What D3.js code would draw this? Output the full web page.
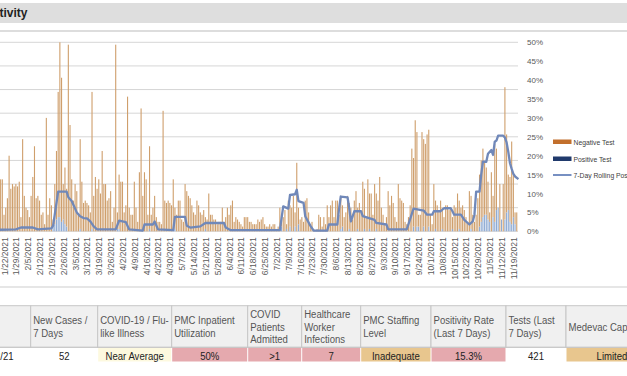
<!DOCTYPE html>
<html>
<head>
<meta charset="utf-8">
<script src="https://cdn.jsdelivr.net/npm/d3@7"></script>
<style>
  body { margin: 0; background: #fff; }
  svg { display: block; font-family: "Liberation Sans", Arial, sans-serif; }
</style>
</head>
<body>
<svg id="chart" width="627" height="376"></svg>
<script>
// daily tests, first value is 1/19/2021
const firstDay = "1/19/2021";
const totalTests = [
  25,22,22,7,10,14,32,18,20,19, 20,19,21,6,39,15,10,9,6,15,
  23,36,14,15,13,7,8,3,48,7, 14,11,5,20,34,59,80,65,20,27,
  18,79,45,22,13,20,17,7,39,21, 12,13,12,11,8,59,15,23,18,22,
  16,34,20,20,13,14,17,4,10,79, 8,24,21,21,8,11,57,10,7,7,
  21,10,4,25,52,15,25,22,7,36, 7,10,15,6,4,4,3,51,13,12,
  13,12,11,
  22,10,7,13,13,5,4,20,17, 15,14,11,8,7,13,11,8,7,9,
  6,5,16,7,7,5,5,3,4,4, 10,4,6,10,7,11,13,4,6,5,
  4,3,2,6,6,6,4,4,3,3, 3,5,4,5,6,3,2,2,3,2,
  3,3,1,2,10,7,6,9,3,13, 11,10,15,8,29,10,5,6,4,13,
  14,8,3,4,1,0,1,7,6,2, 6,3,11,6,11,13,6,13,13,
  7,15,11,6,8,15,12,10,5,13,17, 10,12,8,21,18,6,22,16,16,7,
  20,16,13,23,10,7,3,6,17,11, 15,12,6,4,20,14,13,12,4,3,
  6,11,35,31,47,42,7,7,42,39, 37,41,43,7,3,20,13,11,9,13,
  10,6,11,11,9,10,6,11,10,16, 13,10,11,9,6,4,17,15,7,4,
  7,14,24,30,35,29,27,21,8,25, 15,37,35,7,20,4,20,61,41,24,
  23,38,24,8,8
];

const positiveDates = [
  "2/20/2021","2/21/2021","2/22/2021","2/23/2021","2/24/2021","2/25/2021","2/26/2021","2/27/2021","2/28/2021",
  "3/8/2021","3/15/2021","3/30/2021","3/31/2021","4/18/2021","5/2/2021","5/3/2021","5/21/2021",
  "7/5/2021","7/8/2021","7/10/2021","7/13/2021","7/15/2021",
  "8/9/2021","8/10/2021","8/14/2021","8/19/2021","8/23/2021","8/26/2021","8/30/2021",
  "9/21/2021","9/23/2021","9/24/2021","9/27/2021","9/30/2021","10/4/2021","10/8/2021","10/14/2021","10/18/2021","10/25/2021",
  "10/30/2021","10/31/2021","11/1/2021","11/2/2021","11/3/2021","11/4/2021","11/5/2021","11/7/2021","11/8/2021",
  "11/9/2021","11/10/2021","11/12/2021","11/14/2021","11/15/2021","11/16/2021","11/17/2021","11/18/2021","11/19/2021","11/20/2021"
];
const positiveCounts = [
  2,3,5,6,6,4,5,3,2,
  1,1,1,1,1,1,1,1,
  2,1,2,2,3,
  1,2,1,1,1,1,1,
  2,2,2,2,2,1,1,1,1,1,
  2,4,6,7,7,5,4,6,4,
  9,10,5,5,8,9,4,3,6,3
];

// 7-day rolling positivity (%)
const rollingDates = [
  "1/19/2021","1/29/2021","2/1/2021","2/8/2021","2/11/2021","2/19/2021","2/20/2021","2/23/2021","2/28/2021","3/1/2021",
  "3/3/2021","3/6/2021","3/8/2021","3/10/2021","3/12/2021","3/14/2021","3/16/2021","3/18/2021","3/29/2021","3/31/2021",
  "4/4/2021","4/6/2021","4/14/2021","4/15/2021","4/20/2021","4/21/2021","4/23/2021","5/2/2021","5/3/2021","5/9/2021",
  "5/10/2021","5/12/2021","5/18/2021","5/21/2021","6/1/2021","6/2/2021","6/5/2021","7/4/2021","7/6/2021","7/9/2021",
  "7/10/2021","7/13/2021","7/14/2021","7/15/2021","7/18/2021","7/19/2021","7/22/2021","7/24/2021","8/1/2021","8/2/2021",
  "8/7/2021","8/8/2021","8/9/2021","8/13/2021","8/14/2021","8/15/2021","8/17/2021","8/21/2021","8/22/2021","8/29/2021",
  "8/30/2021","9/5/2021","9/6/2021","9/17/2021","9/21/2021","9/27/2021","9/29/2021","10/2/2021","10/3/2021","10/7/2021",
  "10/9/2021","10/13/2021","10/14/2021","10/15/2021","10/19/2021","10/21/2021","10/24/2021","10/26/2021","10/27/2021","10/28/2021",
  "10/30/2021","10/31/2021","11/1/2021","11/3/2021","11/4/2021","11/6/2021","11/7/2021","11/8/2021","11/9/2021","11/10/2021",
  "11/13/2021","11/14/2021","11/15/2021","11/16/2021","11/17/2021","11/18/2021","11/19/2021","11/20/2021","11/22/2021"
];
const rollingRate = [
  0.4,0.5,1.0,1.0,0.5,0.8,1.5,10.5,10.5,9.0,
  8.0,5.0,4.0,3.5,3.4,2.6,1.3,0.5,0.5,2.8,
  2.4,0.5,0.2,1.8,1.8,2.6,0.5,0.3,3.8,3.8,
  1.5,1.0,1.3,2.2,2.2,1.0,0.3,0.3,6.6,6.0,
  9.6,9.8,11.0,8.0,7.5,4.0,1.5,0.2,0.2,1.8,
  1.8,6.0,9.2,9.0,6.1,2.6,5.3,5.3,4.0,3.0,
  2.2,1.8,0.5,0.5,6.0,5.5,4.4,4.4,5.3,5.3,
  6.1,6.1,5.3,4.4,4.4,3.0,1.8,2.6,4.4,10.5,
  10.5,15.0,18.4,18.4,20.5,21.5,20.2,23.7,24.0,25.3,
  25.3,24.8,23.5,21.0,18.0,16.5,15.2,14.5,13.8
];

const dateLabels = [
  "1/22/2021","1/29/2021","2/5/2021","2/12/2021","2/19/2021","2/26/2021","3/5/2021","3/12/2021","3/19/2021","3/26/2021",
  "4/2/2021","4/9/2021","4/16/2021","4/23/2021","4/30/2021","5/7/2021","5/14/2021","5/21/2021","5/28/2021","6/4/2021",
  "6/11/2021","6/18/2021","6/25/2021","7/2/2021","7/9/2021","7/16/2021","7/23/2021","7/30/2021","8/6/2021","8/13/2021",
  "8/20/2021","8/27/2021","9/3/2021","9/10/2021","9/17/2021","9/24/2021","10/1/2021","10/8/2021","10/15/2021","10/22/2021",
  "10/29/2021","11/5/2021","11/12/2021","11/19/2021"
];
const testTicks = [0, 10, 20, 30, 40, 50, 60, 70, 80];
const rateTicks = [0, 0.05, 0.10, 0.15, 0.20, 0.25, 0.30, 0.35, 0.40, 0.45, 0.50];

const legendNames = ["Negative Test", "Positive Test", "7-Day Rolling Positivity"];

const tableHeaders = [
  [], ["New Cases /", "7 Days"], ["COVID-19 / Flu-", "like Illness"], ["PMC Inpatient", "Utilization"],
  ["COVID", "Patients", "Admitted"], ["Healthcare", "Worker", "Infections"], ["PMC Staffing", "Level"],
  ["Positivity Rate", "(Last 7 Days)"], ["Tests (Last", "7 Days)"], ["Medevac Capability"]
];
const tableValues = ["11/22/21", "52", "Near Average", "50%", ">1", "7", "Inadequate", "15.3%", "421", "Limited"];
const tableStatus = ["none", "none", "watch", "alert", "alert", "alert", "warn", "alert", "none", "warn"];

const statusFill = { none: "#ffffff", watch: "#fdf9df", alert: "#e5a9ae", warn: "#e8c68e" };
const colEdges = [-40, 30.7, 97.7, 171.7, 247.7, 301.7, 360.7, 431, 506, 566, 658];

const parse = d3.utcParse("%m/%d/%Y");
const fmt = d3.utcFormat("%-m/%-d/%Y");

const start = parse(firstDay);
const posMap = new Map(positiveDates.map((d, i) => [+parse(d), positiveCounts[i]]));
const rows = totalTests.map((t, i) => {
  const date = d3.utcDay.offset(start, i);
  const pos = posMap.get(+date) || 0;
  return { date, pos, neg: t - pos };
});
const rolling = rollingDates.map((d, i) => ({ date: parse(d), rate: rollingRate[i] / 100 }));

const svg = d3.select("#chart");

const x = d3.scaleUtc()
  .domain([d3.utcHour.offset(rows[0].date, -12), d3.utcHour.offset(rows[rows.length - 1].date, 12)])
  .range([-1.9, 517.6]);
const yTests = d3.scaleLinear().domain([0, 80]).range([231.3, 42.3]);
const yRate = d3.scaleLinear().domain([0, 0.5]).range([231.3, 42.3]);

// title strip
svg.append("rect").attr("x", 0).attr("y", 3).attr("width", 627).attr("height", 20).attr("fill", "#dedede");
svg.append("text").attr("x", 27.5).attr("y", 16.5).attr("text-anchor", "end")
  .attr("font-size", 12).attr("font-weight", "bold").attr("fill", "#222")
  .text("COVID-19 Testing Positivity");
svg.append("line").attr("x1", 0).attr("x2", 627).attr("y1", 31).attr("y2", 31)
  .attr("stroke", "#d2d2d2").attr("stroke-width", 1.5);

// gridlines
svg.append("g").selectAll("line").data(testTicks).join("line")
  .attr("x1", 0).attr("x2", 518)
  .attr("y1", d => yTests(d)).attr("y2", d => yTests(d))
  .attr("stroke", "#d6d6d6").attr("stroke-width", 1);

// stacked bars
const bw = 1.1;
svg.append("g").selectAll("rect").data(rows).join("rect")
  .attr("x", d => x(d.date) - bw / 2).attr("width", bw)
  .attr("y", d => yTests(d.pos)).attr("height", d => yTests(0) - yTests(d.pos))
  .attr("fill", "#8eaad3");
svg.append("g").selectAll("rect").data(rows).join("rect")
  .attr("x", d => x(d.date) - bw / 2).attr("width", bw)
  .attr("y", d => yTests(d.pos + d.neg)).attr("height", d => yTests(d.pos) - yTests(d.pos + d.neg))
  .attr("fill", "#cf9f6c");

// rolling line
svg.append("path").datum(rolling)
  .attr("fill", "none").attr("stroke", "#7088b9").attr("stroke-width", 2.3)
  .attr("stroke-linejoin", "round")
  .attr("d", d3.line().x(d => x(d.date)).y(d => yRate(d.rate)));

// date axis
const xAxis = svg.append("g").attr("transform", "translate(0,231.3)")
  .call(d3.axisBottom(x).tickValues(dateLabels.map(parse)).tickFormat(fmt).tickSize(0));
xAxis.select(".domain").remove();
xAxis.selectAll("text")
  .attr("transform", "rotate(-90)").attr("x", -6).attr("y", 0).attr("dy", "0.35em")
  .style("text-anchor", "end").attr("font-size", 8.5).attr("fill", "#595959")
  .attr("font-family", "Liberation Sans, Arial, sans-serif");

// right percentage axis
const rAxis = svg.append("g").attr("transform", "translate(522,0)")
  .call(d3.axisRight(yRate).tickValues(rateTicks).tickFormat(d3.format(".0%")).tickSize(0).tickPadding(5));
rAxis.select(".domain").remove();
rAxis.selectAll("text").attr("font-size", 8).attr("fill", "#595959")
  .attr("font-family", "Liberation Sans, Arial, sans-serif");

// legend
const legend = svg.append("g").attr("transform", "translate(553,0)");
legend.append("rect").attr("x", 0).attr("y", 139.5).attr("width", 18.5).attr("height", 4.5).attr("fill", "#c26f2c");
legend.append("rect").attr("x", 0).attr("y", 156.5).attr("width", 18.5).attr("height", 4.5).attr("fill", "#203a6c");
legend.append("line").attr("x1", 0).attr("x2", 18.5).attr("y1", 175).attr("y2", 175)
  .attr("stroke", "#7790c2").attr("stroke-width", 2);
legend.selectAll("text").data(legendNames).join("text")
  .attr("transform", (d, i) => `translate(20.5,${[144.5, 161.5, 178][i]}) scale(0.87,1)`)
  .attr("font-size", 7.8).attr("fill", "#404040").text(d => d);

// status table
svg.append("line").attr("x1", 0).attr("x2", 627).attr("y1", 287).attr("y2", 287)
  .attr("stroke", "#cdcdcd").attr("stroke-width", 1);

const headTop = 305.7, headBottom = 347.3, rowBottom = 362;
const table = svg.append("g");
const cols = tableHeaders.map((h, i) => ({
  head: h, value: tableValues[i], status: tableStatus[i],
  x0: colEdges[i], x1: colEdges[i + 1]
}));

table.selectAll("rect.head").data(cols).join("rect").attr("class", "head")
  .attr("x", d => d.x0).attr("y", headTop).attr("width", d => d.x1 - d.x0).attr("height", headBottom - headTop)
  .attr("fill", "#f0f0f0").attr("stroke", "#c6c6c6").attr("stroke-width", 1);
table.selectAll("rect.val").data(cols).join("rect").attr("class", "val")
  .attr("x", d => d.x0 + 0.5).attr("y", headBottom + 0.5).attr("width", d => d.x1 - d.x0 - 1).attr("height", rowBottom - headBottom - 1)
  .attr("fill", d => statusFill[d.status]);
table.append("line").attr("x1", 0).attr("x2", 627).attr("y1", headBottom).attr("y2", headBottom)
  .attr("stroke", "#c6c6c6");

const mid = (headTop + headBottom) / 2, lh = 12.5;
cols.forEach(c => {
  c.head.forEach((line, j) => {
    const yy = mid - (c.head.length - 1) / 2 * lh + j * lh + 4;
    table.append("text")
      .attr("transform", `translate(${c.x0 + 2.5},${yy}) scale(0.87,1)`)
      .attr("font-size", 11).attr("fill", "#555").text(line);
  });
  table.append("text")
    .attr("transform", `translate(${(c.x0 + c.x1) / 2},359.5) scale(0.87,1)`)
    .attr("text-anchor", "middle").attr("font-size", 11).attr("fill", "#222").text(c.value);
});
</script>
</body>
</html>
